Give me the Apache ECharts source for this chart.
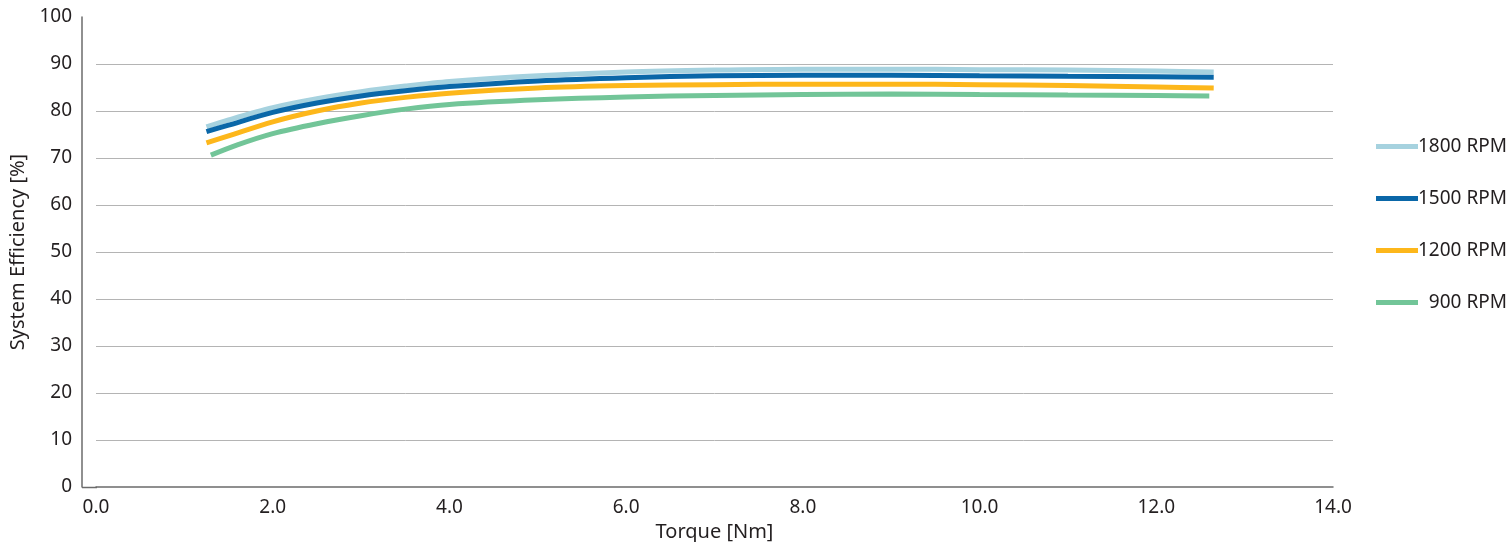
<!DOCTYPE html>
<html>
<head>
<meta charset="utf-8">
<script src="https://cdn.jsdelivr.net/npm/echarts@6/dist/echarts.min.js"></script>
<style>
html,body{margin:0;padding:0;background:#fff;}
#c{width:1512px;height:542px;}
</style>
</head>
<body>
<div id="c"></div>
<script>
const seriesNames = ['1800 RPM', '1500 RPM', '1200 RPM', '\u2007900 RPM'];
const colors = ['#a6d2df', '#0a67a8', '#fdb71b', '#72c598'];
const torque = [1.25, 1.5, 2.0, 2.5, 3.0, 3.5, 4.0, 5.0, 6.0, 7.0, 8.0, 9.0, 10.0, 11.0, 12.0, 12.65];
const torque900 = [1.3, 1.6, 2.0, 2.5, 3.0, 3.5, 4.0, 5.0, 6.0, 7.0, 8.0, 9.0, 10.0, 11.0, 12.0, 12.6];
const eff1800 = [76.6, 78.1, 80.7, 82.6, 84.1, 85.3, 86.3, 87.5, 88.3, 88.7, 88.9, 88.9, 88.8, 88.7, 88.5, 88.3];
const eff1500 = [75.6, 77.0, 79.7, 81.7, 83.2, 84.3, 85.2, 86.4, 87.1, 87.5, 87.6, 87.6, 87.5, 87.4, 87.3, 87.2];
const eff1200 = [73.2, 74.7, 77.7, 80.0, 81.7, 82.9, 83.8, 84.9, 85.4, 85.6, 85.7, 85.7, 85.6, 85.4, 85.1, 84.9];
const eff900  = [70.6, 72.8, 75.2, 77.3, 79.0, 80.4, 81.4, 82.4, 83.0, 83.3, 83.5, 83.6, 83.5, 83.4, 83.3, 83.2];
const xTicks = [0, 2, 4, 6, 8, 10, 12, 14];
const yTicks = [0, 10, 20, 30, 40, 50, 60, 70, 80, 90, 100];

const pair = (xs, ys) => xs.map((x, i) => [x, ys[i]]);
const allData = [pair(torque, eff1800), pair(torque, eff1500), pair(torque, eff1200), pair(torque900, eff900)];

const font = 'Noto Sans';
const txt = '#231f20';
const chart = echarts.init(document.getElementById('c'));
chart.setOption({
  animation: false,
  backgroundColor: '#fff',
  grid: { left: 96, right: 179, top: 17, bottom: 55, containLabel: false, outerBoundsMode: 'none' },
  xAxis: {
    type: 'value',
    min: xTicks[0], max: xTicks[xTicks.length - 1], interval: 2,
    name: 'Torque [Nm]', nameLocation: 'middle', nameGap: 34,
    nameTextStyle: { fontFamily: font, fontSize: 20, color: txt },
    axisLine: { show: true, onZero: false, lineStyle: { color: '#6b6b6b', width: 1.5 } },
    axisTick: { show: false },
    splitLine: { show: false },
    axisLabel: { fontFamily: font, fontSize: 19, color: txt, margin: 11,
      formatter: v => v.toFixed(1) }
  },
  yAxis: {
    type: 'value',
    min: yTicks[0], max: yTicks[yTicks.length - 1], interval: 10,
    offset: 14,
    name: 'System Efficiency [%]', nameLocation: 'middle', nameGap: 49,
    nameTextStyle: { fontFamily: font, fontSize: 20, color: txt },
    axisLine: { show: true, onZero: false, lineStyle: { color: '#6b6b6b', width: 1.5 } },
    axisTick: { show: false },
    splitLine: { show: true, showMinLine: false, showMaxLine: false, lineStyle: { color: '#b4b4b4', width: 1 } },
    axisLabel: { fontFamily: font, fontSize: 19, color: txt, margin: 10 }
  },
  legend: {
    orient: 'vertical',
    left: 1376, top: 137,
    padding: 0,
    icon: 'rect',
    itemWidth: 42, itemHeight: 5,
    itemGap: 33,
    textStyle: { fontFamily: font, fontSize: 19, color: txt, padding: [0, 0, 0, -5] },
    data: seriesNames
  },
  graphic: [{
    type: 'line', silent: true,
    shape: { x1: 82, y1: 487.5, x2: 97, y2: 487.5 },
    style: { stroke: '#6b6b6b', lineWidth: 1.5 }
  }],
  series: seriesNames.map((n, i) => ({
    name: n,
    type: 'line',
    smooth: 0.3,
    symbol: 'none',
    data: allData[i],
    lineStyle: { color: colors[i], width: 5 },
    itemStyle: { color: colors[i] }
  }))
});
</script>
</body>
</html>
